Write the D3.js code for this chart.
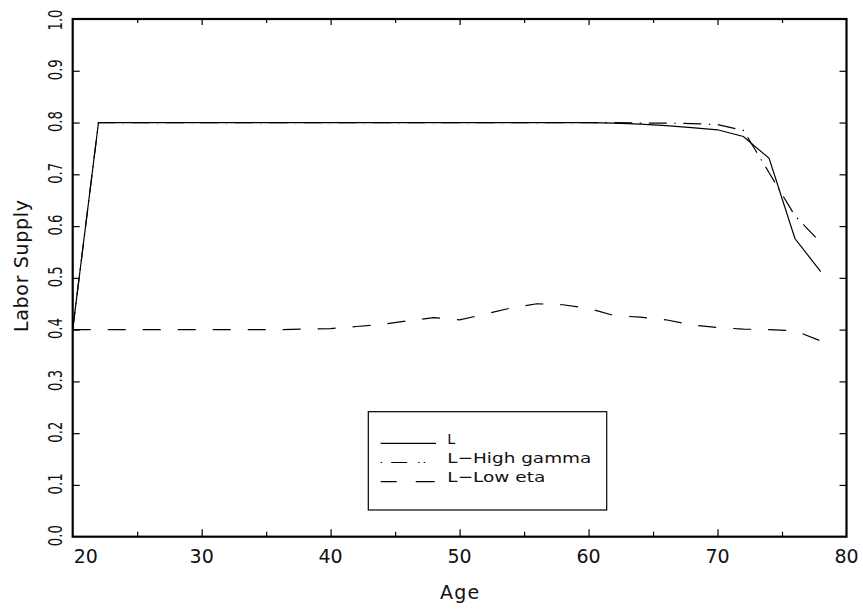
<!DOCTYPE html>
<html>
<head>
<meta charset="utf-8">
<script src="https://cdn.jsdelivr.net/npm/d3@7"></script>
<style>
  html, body { margin: 0; padding: 0; background: #fff; }
  svg { display: block; }
  text { font-family: 'DejaVu Sans ExtraLight', 'DejaVu Sans', 'Liberation Sans', sans-serif; fill: #111; }
</style>
</head>
<body>
<svg id="chart" width="863" height="609"></svg>
<script>
// ---- data ----
const ages = [20,22,24,26,28,30,32,34,36,38,40,42,44,46,48,50,52,54,56,58,60,62,64,66,68,70,72,74,76,78];
const L = [0.400,0.800,0.800,0.800,0.800,0.800,0.800,0.800,0.800,0.800,0.800,0.800,0.800,0.800,0.800,
           0.800,0.800,0.800,0.800,0.800,0.800,0.799,0.797,0.794,0.790,0.786,0.773,0.731,0.576,0.512];
const L_HighGamma = [0.400,0.800,0.800,0.800,0.800,0.800,0.800,0.800,0.800,0.800,0.800,0.800,0.800,0.800,0.800,
           0.800,0.800,0.800,0.800,0.800,0.800,0.800,0.799,0.799,0.798,0.796,0.785,0.703,0.620,0.568];
const L_LowEta = [0.400,0.400,0.400,0.400,0.400,0.400,0.400,0.400,0.400,0.401,0.402,0.406,0.410,0.417,0.423,
           0.419,0.430,0.442,0.450,0.448,0.441,0.427,0.424,0.419,0.409,0.404,0.401,0.400,0.398,0.378];
const seriesNames = ["L", "L\u2212High gamma", "L\u2212Low eta"];
const xTicks = [20,30,40,50,60,70,80];
const xMinorTicks = [25,35,45,55,65,75];
const yTicks = [0.0,0.1,0.2,0.3,0.4,0.5,0.6,0.7,0.8,0.9,1.0];
const xTitle = "Age";
const yTitle = "Labor Supply";

// ---- layout ----
const pLeft = 72.7, pRight = 846.5, pTop = 19, pBottom = 536.7;
const svg = d3.select("#chart");
const x = d3.scaleLinear().domain([20, 80]).range([pLeft, pRight]);
const y = d3.scaleLinear().domain([0, 1]).range([pBottom, pTop]);

const styles = [
  { dash: null },
  { dash: "18,7.5,1.5,7.5" },
  { dash: "18,17" }
];
const seriesData = [L, L_HighGamma, L_LowEta];

// ---- axes ticks (inward) ----
function stripDomain(g) { g.select(".domain").remove(); g.selectAll("text").remove(); g.selectAll("line").attr("stroke", "#000").attr("stroke-width", 1.2); }
svg.append("g").attr("transform", `translate(0,${pBottom})`)
  .call(d3.axisBottom(x).tickValues(xTicks.slice(1, -1)).tickSize(-7.5)).call(stripDomain);
svg.append("g").attr("transform", `translate(0,${pBottom})`)
  .call(d3.axisBottom(x).tickValues(xMinorTicks).tickSize(-5)).call(stripDomain);
svg.append("g").attr("transform", `translate(0,${pTop})`)
  .call(d3.axisTop(x).tickValues(xTicks.slice(1, -1)).tickSize(-6)).call(stripDomain);
svg.append("g").attr("transform", `translate(0,${pTop})`)
  .call(d3.axisTop(x).tickValues(xMinorTicks).tickSize(-4)).call(stripDomain);
svg.append("g").attr("transform", `translate(${pLeft},0)`)
  .call(d3.axisLeft(y).tickValues(yTicks.slice(1, -1)).tickSize(-7)).call(stripDomain);
svg.append("g").attr("transform", `translate(${pRight},0)`)
  .call(d3.axisRight(y).tickValues(yTicks.slice(1, -1)).tickSize(-7)).call(stripDomain);

// ---- series lines ----
const line = d3.line().x((d, i) => x(ages[i])).y(d => y(d));
seriesData.forEach((s, k) => {
  svg.append("path")
    .datum(s)
    .attr("d", line)
    .attr("fill", "none")
    .attr("stroke", "#000")
    .attr("stroke-width", 1.2)
    .attr("stroke-dasharray", styles[k].dash);
});

// ---- frame ----
svg.append("rect")
  .attr("x", pLeft).attr("y", pTop)
  .attr("width", pRight - pLeft).attr("height", pBottom - pTop)
  .attr("fill", "none").attr("stroke", "#000").attr("stroke-width", 2.2);

// ---- tick labels ----
svg.selectAll(".xlab").data(xTicks).enter().append("text")
  .attr("class", "xlab")
  .attr("x", (d, i) => i === 0 ? x(d) + 1 : x(d))
  .attr("y", 563)
  .attr("text-anchor", (d, i) => i === 0 ? "start" : "middle")
  .attr("font-size", 19)
  .text(d => d);

svg.selectAll(".ylab").data(yTicks).enter().append("text")
  .attr("class", "ylab")
  .attr("transform", (d, i) => `translate(61.5,${i === yTicks.length - 1 ? y(d) + 1 : y(d) - 1}) rotate(-90)`)
  .attr("text-anchor", "middle")
  .attr("font-size", 20)
  .attr("textLength", 21)
  .attr("lengthAdjust", "spacingAndGlyphs")
  .text(d => d.toFixed(1));

// ---- axis titles ----
svg.append("text")
  .attr("x", (pLeft + pRight) / 2).attr("y", 599)
  .attr("text-anchor", "middle")
  .attr("font-size", 19)
  .attr("textLength", 39)
  .text(xTitle);
svg.append("text")
  .attr("transform", `translate(28,266) rotate(-90)`)
  .attr("text-anchor", "middle")
  .attr("font-size", 19)
  .attr("textLength", 132)
  .text(yTitle);

// ---- legend ----
const lg = svg.append("g");
lg.append("rect")
  .attr("x", 368.3).attr("y", 411.7)
  .attr("width", 238.4).attr("height", 98.3)
  .attr("fill", "#fff").attr("stroke", "#000").attr("stroke-width", 1.2);
const legendY = [443.3, 462.5, 481.7];
const legendDash = [null, "1.5,9,16,11,1.5,4,1.5,20", "16,19,19,20"];
const legendTextLen = [8, 144, 98];
seriesNames.forEach((name, k) => {
  lg.append("line")
    .attr("x1", 380.7).attr("x2", 436)
    .attr("y1", legendY[k]).attr("y2", legendY[k])
    .attr("stroke", "#000").attr("stroke-width", 1.2)
    .attr("stroke-dasharray", legendDash[k]);
  lg.append("text")
    .attr("x", 447.3).attr("y", legendY[k] + 0.3)
    .attr("font-size", 14.5)
    .attr("textLength", legendTextLen[k])
    .attr("lengthAdjust", "spacingAndGlyphs")
    .text(name);
});
</script>
</body>
</html>
